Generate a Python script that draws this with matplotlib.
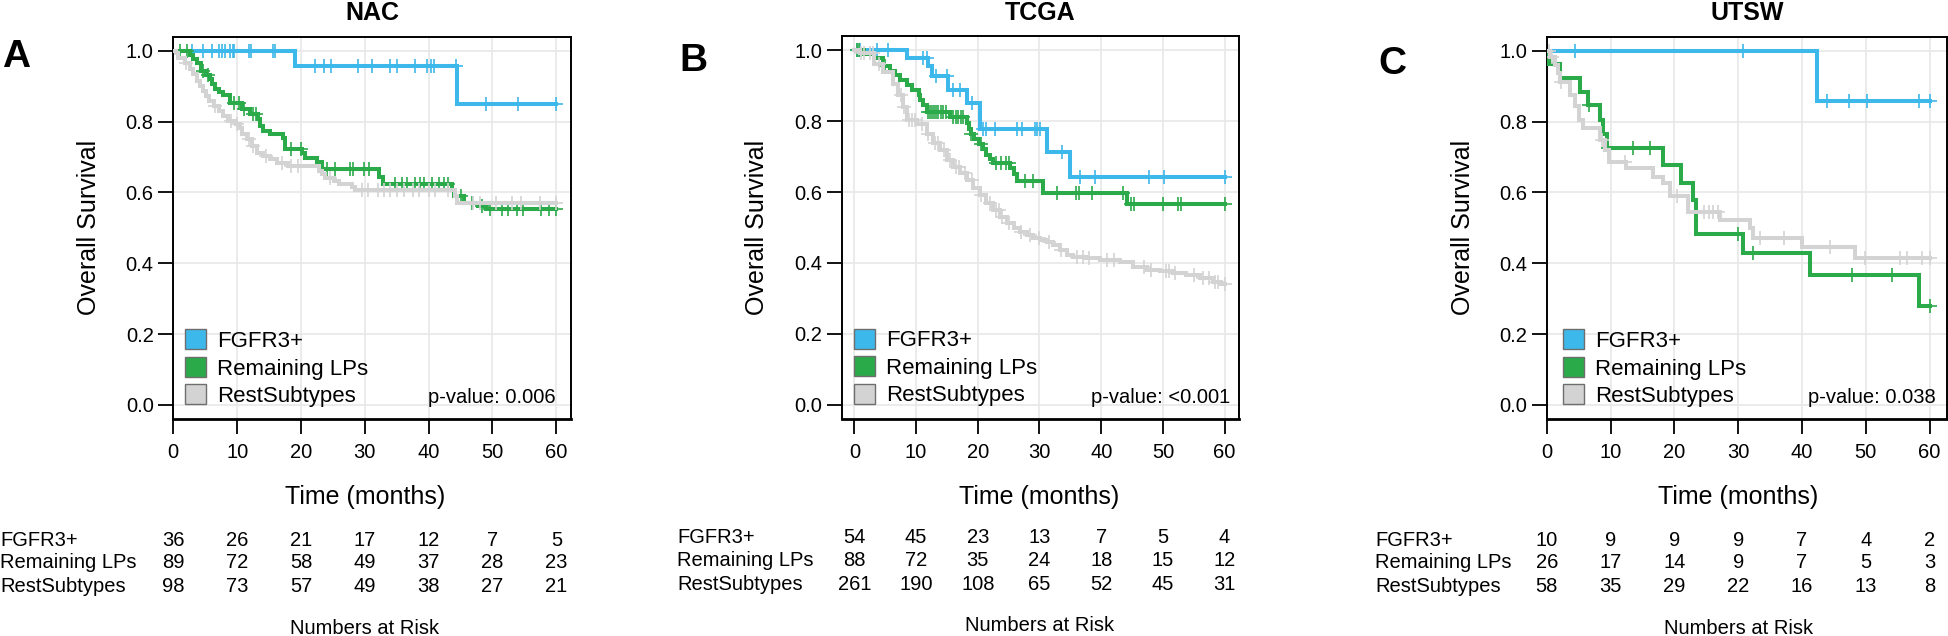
import numpy as np
import matplotlib
matplotlib.use('Agg')
import matplotlib.pyplot as plt
from matplotlib.patches import Rectangle

plt.rcParams['font.family'] = ['Liberation Sans', 'DejaVu Sans']

# ---------------- data ----------------
groups = ['FGFR3+', 'Remaining LPs', 'RestSubtypes']
colors = ['#3DB8EA', '#2BAA4A', '#D3D3D3']
titles = ['NAC', 'TCGA', 'UTSW']
letters = ['A', 'B', 'C']
pvalues = ['p-value: 0.006', 'p-value: <0.001', 'p-value: 0.038']
risk_times = [0, 10, 20, 30, 40, 50, 60]

# NAC
nac_fgfr3_t = [19.1, 44.5]
nac_fgfr3_s = [0.957, 0.851]
nac_fgfr3_cens = [3.0, 4.7, 6.0, 7.1, 7.6, 8.1, 8.9, 9.3, 9.5, 11.9, 12.2, 15.6, 16.0,
                  22.2, 23.6, 24.7, 28.9, 31.2, 33.9, 35.0, 37.9, 39.8, 40.3, 40.8, 44.3,
                  49.0, 54.0, 60.0]
nac_lp_t = [2.6, 3.1, 3.7, 4.4, 5.2, 5.7, 6.0, 6.5, 7.1, 7.8, 8.9, 10.7, 12.0, 13.3, 13.6,
            14.1, 15.1, 17.2, 17.5, 20.1, 20.6, 22.5, 23.3, 32.3, 32.8, 43.7, 44.0, 45.5,
            47.8, 49.0]
nac_lp_s = [0.989, 0.978, 0.966, 0.943, 0.932, 0.920, 0.905, 0.891, 0.884, 0.874, 0.854,
            0.835, 0.821, 0.808, 0.788, 0.774, 0.764, 0.755, 0.722, 0.712, 0.698, 0.687,
            0.667, 0.645, 0.624, 0.607, 0.590, 0.571, 0.562, 0.552]
nac_lp_cens = [1.0, 2.2, 4.6, 5.4, 9.5, 10.3, 11.0, 12.5, 13.0, 18.5, 20.0, 24.0, 25.3,
               27.7, 28.1, 29.8, 30.7, 34.8, 35.8, 36.6, 37.9, 38.7, 39.3, 40.5, 41.6,
               42.4, 43.0, 45.0, 46.8, 48.3, 49.6, 51.5, 52.5, 53.8, 54.8, 57.6, 58.8, 60.0]
nac_rest_t = [0.5, 0.8, 1.8, 2.6, 3.1, 3.7, 4.2, 4.7, 5.2, 5.6, 6.3, 7.1, 7.8, 8.6, 9.9,
              10.5, 10.7, 11.5, 12.3, 13.1, 14.1, 15.2, 16.2, 18.0, 22.8, 23.3, 23.8,
              25.1, 25.9, 28.0, 28.5, 44.1, 44.5]
nac_rest_s = [0.995, 0.981, 0.967, 0.948, 0.934, 0.915, 0.901, 0.887, 0.872, 0.858, 0.844,
              0.830, 0.816, 0.802, 0.792, 0.783, 0.764, 0.750, 0.731, 0.712, 0.703, 0.694,
              0.684, 0.675, 0.660, 0.651, 0.642, 0.632, 0.623, 0.614, 0.607, 0.590, 0.571]
nac_rest_cens = [2.0, 6.5, 9.0, 10.0, 11.8, 12.5, 14.5, 17.0, 18.5, 19.5, 24.5, 29.5, 30.5,
                 32.0, 33.0, 34.0, 35.0, 36.2, 37.5, 38.5, 40.0, 41.0, 43.0, 47.0, 48.0,
                 50.5, 53.0, 54.5, 57.5, 60.0]

# TCGA
tcga_fgfr3_t = [8.5, 12.0, 12.5, 15.2, 18.2, 20.3, 31.2, 35.0]
tcga_fgfr3_s = [0.979, 0.955, 0.928, 0.887, 0.852, 0.778, 0.712, 0.642]
tcga_fgfr3_cens = [0.5, 0.9, 3.6, 5.5, 11.2, 11.8, 13.3, 15.0, 16.0, 17.1, 19.0, 20.9,
                   21.4, 22.8, 26.3, 27.1, 29.3, 29.6, 30.1, 33.6, 36.6, 39.0, 47.8, 50.1,
                   60.0]
tcga_lp_t = [1.5, 3.1, 4.7, 5.8, 6.6, 7.4, 8.5, 9.3, 10.4, 10.6, 11.2, 11.7, 15.5, 18.2,
             18.5, 18.9, 19.4, 20.2, 20.8, 21.3, 21.9, 22.5, 25.3, 25.8, 26.4, 30.6, 44.2]
tcga_lp_s = [0.989, 0.977, 0.954, 0.940, 0.929, 0.915, 0.901, 0.887, 0.873, 0.859, 0.845,
             0.826, 0.812, 0.795, 0.779, 0.765, 0.750, 0.736, 0.720, 0.705, 0.692, 0.683,
             0.668, 0.652, 0.632, 0.598, 0.565]
tcga_lp_cens = [0.4, 0.7, 5.0, 11.9, 12.2, 12.6, 12.9, 13.2, 13.6, 14.0, 14.4, 14.8, 16.0,
                16.4, 16.8, 17.2, 17.6, 18.9, 20.6, 23.0, 23.8, 24.5, 25.0, 27.6, 29.0,
                32.8, 35.9, 36.4, 38.5, 43.5, 44.8, 45.3, 50.0, 52.5, 53.0, 60.0]
tcga_rest_t = [0.9, 3.1, 4.7, 6.3, 7.1, 7.9, 8.5, 10.1, 11.7, 12.8, 13.9, 15.0, 16.0, 17.1,
               18.2, 19.3, 20.4, 21.4, 22.5, 23.6, 24.7, 25.8, 26.8, 27.9, 29.0, 30.1,
               31.2, 32.2, 33.3, 34.4, 35.5, 37.6, 39.8, 43.1, 45.2, 47.4, 49.5, 51.7,
               53.8, 56.0, 58.2, 59.4]
tcga_rest_s = [0.991, 0.962, 0.939, 0.906, 0.873, 0.840, 0.803, 0.793, 0.765, 0.737, 0.718,
               0.690, 0.671, 0.653, 0.634, 0.610, 0.592, 0.568, 0.549, 0.531, 0.512, 0.498,
               0.488, 0.479, 0.469, 0.465, 0.460, 0.451, 0.437, 0.423, 0.418, 0.413, 0.408,
               0.404, 0.390, 0.380, 0.376, 0.371, 0.366, 0.357, 0.347, 0.340]
tcga_rest_cens = [1.0, 1.6, 2.5, 3.0, 4.0, 7.5, 8.0, 8.8, 9.3, 9.8, 11.0, 12.0, 13.0, 13.5,
                  14.5, 15.5, 16.5, 17.0, 18.0, 19.0, 20.5, 22.0, 23.0, 23.5, 24.0, 25.0,
                  27.0, 28.5, 30.0, 31.5, 33.5, 36.0, 37.0, 38.0, 41.0, 42.0, 47.0, 48.0,
                  50.5, 51.0, 52.0, 55.0, 56.5, 57.5, 58.5, 59.0, 60.0]

# UTSW
utsw_fgfr3_t = [42.3]
utsw_fgfr3_s = [0.857]
utsw_fgfr3_cens = [4.5, 30.8, 43.9, 47.4, 50.2, 58.4, 60.0]
utsw_lp_t = [0.3, 2.1, 5.2, 6.5, 8.4, 8.9, 9.4, 18.3, 21.1, 23.0, 23.4, 30.8, 41.3, 58.3]
utsw_lp_s = [0.962, 0.923, 0.885, 0.846, 0.805, 0.765, 0.725, 0.678, 0.628, 0.579, 0.483,
             0.428, 0.367, 0.278]
utsw_lp_cens = [6.6, 9.6, 13.6, 16.2, 30.0, 32.4, 47.8, 54.1, 60.0]
utsw_rest_t = [0.5, 1.3, 1.8, 2.1, 3.7, 4.4, 5.0, 5.7, 8.4, 9.1, 9.7, 12.5, 16.7, 18.3,
               19.4, 22.2, 27.2, 31.8, 32.4, 40.0, 48.3]
utsw_rest_s = [0.984, 0.960, 0.938, 0.913, 0.876, 0.843, 0.805, 0.782, 0.749, 0.720, 0.687,
               0.669, 0.645, 0.626, 0.589, 0.546, 0.523, 0.499, 0.471, 0.447, 0.414]
utsw_rest_cens = [0.3, 0.8, 2.3, 8.6, 12.3, 20.4, 24.6, 25.4, 26.1, 26.9, 33.4, 37.2, 44.4,
                  49.9, 55.4, 56.4, 58.8, 60.0]

# numbers at risk
nac_risk_fgfr3 = [36, 26, 21, 17, 12, 7, 5]
nac_risk_lp = [89, 72, 58, 49, 37, 28, 23]
nac_risk_rest = [98, 73, 57, 49, 38, 27, 21]
tcga_risk_fgfr3 = [54, 45, 23, 13, 7, 5, 4]
tcga_risk_lp = [88, 72, 35, 24, 18, 15, 12]
tcga_risk_rest = [261, 190, 108, 65, 52, 45, 31]
utsw_risk_fgfr3 = [10, 9, 9, 9, 7, 4, 2]
utsw_risk_lp = [26, 17, 14, 9, 7, 5, 3]
utsw_risk_rest = [58, 35, 29, 22, 16, 13, 8]

curves = [
    [(nac_fgfr3_t, nac_fgfr3_s, nac_fgfr3_cens), (nac_lp_t, nac_lp_s, nac_lp_cens),
     (nac_rest_t, nac_rest_s, nac_rest_cens)],
    [(tcga_fgfr3_t, tcga_fgfr3_s, tcga_fgfr3_cens), (tcga_lp_t, tcga_lp_s, tcga_lp_cens),
     (tcga_rest_t, tcga_rest_s, tcga_rest_cens)],
    [(utsw_fgfr3_t, utsw_fgfr3_s, utsw_fgfr3_cens), (utsw_lp_t, utsw_lp_s, utsw_lp_cens),
     (utsw_rest_t, utsw_rest_s, utsw_rest_cens)],
]
risks = [
    [nac_risk_fgfr3, nac_risk_lp, nac_risk_rest],
    [tcga_risk_fgfr3, tcga_risk_lp, tcga_risk_rest],
    [utsw_risk_fgfr3, utsw_risk_lp, utsw_risk_rest],
]

# ---------------- layout (pixels of a 1948x636 canvas) ----------------
W, H = 1948, 636
layout = [
    # axes left, right, top, bottom, xlim, letter x/baseline, legend x offset, pval x frac, table label x, table dy
    dict(l=173.3, r=571.0, t=36.7, b=419, xlim=(0, 62.3), let=(2, 67), leg=11.7, pv=0.961, lab=0, dy=0),
    dict(l=841.5, r=1238.6, t=36.0, b=419, xlim=(-2.09, 62.27), let=(679, 71), leg=12.9, pv=0.979, lab=677, dy=-2.5),
    dict(l=1546.7, r=1946.8, t=36.7, b=419, xlim=(0, 62.7), let=(1378, 73.5), leg=16.6, pv=0.9715, lab=1375, dy=0),
]

fig = plt.figure(figsize=(W / 100, H / 100), dpi=100)

for k in range(3):
    L = layout[k]
    axw = L['r'] - L['l']
    axh = L['b'] - L['t']
    ax = fig.add_axes([L['l'] / W, 1 - L['b'] / H, axw / W, axh / H])

    # curves: blue, green, then grey on top
    for g in range(3):
        t, s, cens = curves[k][g]
        end = max(max(cens), max(t))
        tt = np.array([0] + list(t) + [end])
        ss = np.array([1.0] + list(s) + [s[-1]])
        ax.step(tt, ss, where='post', color=colors[g], lw=2.9, zorder=3 + g, solid_joinstyle='miter')
        idx = np.searchsorted(tt, cens, side='right') - 1
        ax.plot(cens, ss[idx], ls='none', marker='+', ms=10.5, mew=1.2, color=colors[g], zorder=3 + g)

    ax.set_xlim(*L['xlim'])
    ax.set_ylim(-0.04, 1.04)
    ax.set_xticks(risk_times)
    ax.set_yticks([0, 0.2, 0.4, 0.6, 0.8, 1.0])
    ax.set_yticklabels(['0.0', '0.2', '0.4', '0.6', '0.8', '1.0'])
    ax.grid(color='#E8E8E8', lw=1.2)
    ax.set_axisbelow(True)
    for sp in ax.spines.values():
        sp.set_linewidth(1.4)
    ax.spines['bottom'].set_linewidth(2.0)
    ax.tick_params(axis='x', length=11, width=1.3, pad=6.5, labelsize=14.5)
    ax.tick_params(axis='y', length=10.5, width=1.3, pad=3.6, labelsize=14.5)

    ax.text(-84 / axw, 0.5, 'Overall Survival', transform=ax.transAxes, rotation=90,
            ha='center', va='center', fontsize=18)
    ax.text(30, -(497 - L['b']) / axh, 'Time (months)', transform=ax.get_xaxis_transform(),
            ha='center', va='center', fontsize=18)

    # legend boxes
    for g in range(3):
        yc = 1 - (302.5 + 27.5 * g) / axh
        ax.add_patch(Rectangle((L['leg'] / axw, yc - 10 / axh), 21 / axw, 20 / axh,
                               transform=ax.transAxes, facecolor=colors[g],
                               edgecolor='#6E6E6E', lw=1.0, zorder=6))
        ax.text((L['leg'] + 32) / axw, yc - 8 / axh, groups[g], transform=ax.transAxes,
                ha='left', va='baseline', fontsize=16, zorder=6)
    ax.text(L['pv'], (L['b'] - 403.3) / axh, pvalues[k], transform=ax.transAxes,
            ha='right', va='baseline', fontsize=14.5, zorder=6)

    # title and panel letter
    fig.text((L['l'] + L['r']) / 2 / W, 1 - 20 / H, titles[k], ha='center', va='baseline',
             fontsize=18, fontweight='bold')
    fig.text(L['let'][0] / W, 1 - L['let'][1] / H, letters[k], ha='left', va='baseline',
             fontsize=28, fontweight='bold')

    # numbers at risk table (cap centres of the rows)
    rows_y = [540, 563, 587]
    for g in range(3):
        y = -(rows_y[g] + L['dy'] - L['b']) / axh
        ax.text((L['lab'] - L['l']) / axw, y, groups[g], transform=ax.transAxes,
                ha='left', va='center', fontsize=14.5)
        for x, n in zip(risk_times, risks[k][g]):
            ax.text(x, y, str(n), transform=ax.get_xaxis_transform(), ha='center',
                    va='center', fontsize=14.5)
    ax.text(30, -(628 + L['dy'] - L['b']) / axh, 'Numbers at Risk',
            transform=ax.get_xaxis_transform(), ha='center', va='center', fontsize=14.5)

fig.savefig('out.png', dpi=100)
